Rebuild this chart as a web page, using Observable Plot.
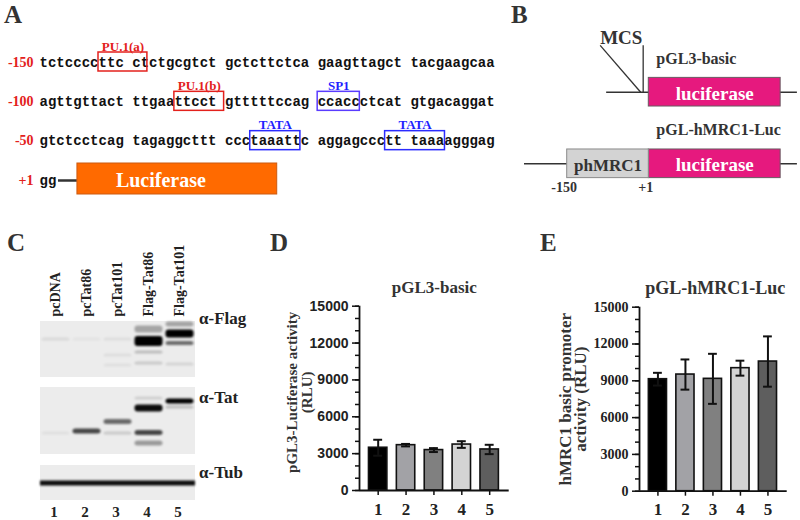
<!DOCTYPE html>
<html><head><meta charset="utf-8">
<script src="https://cdn.jsdelivr.net/npm/d3@7"></script>
<script src="https://cdn.jsdelivr.net/npm/@observablehq/plot@0.6"></script>
<style>
body{margin:0;background:#fff;}
#fig{position:relative;width:800px;height:520px;overflow:hidden;background:#fff;}
.panel{position:absolute;}
.letter{position:absolute;font:bold 25px "Liberation Serif",serif;color:#333;line-height:25px;}
</style></head><body><div id="fig"></div>
<script>
// ---------- Panel A: promoter sequence ----------
const seqRows = [
  "tctccccttc ctctgcgtct gctcttctca gaagttagct tacgaagcaa",
  "agttgttact ttgaattcct gtttttccag ccaccctcat gtgacaggat",
  "gtctcctcag tagaggcttt ccctaaattc aggagccctt taaaagggag",
  "gg"
];
const seqLabels = ["-150", "-100", "-50", "+1"];
const siteNames = ["PU.1(a)", "PU.1(b)", "SP1", "TATA", "TATA"];
const siteRows = [0, 1, 1, 2, 2];
const siteStart = [7, 16, 33, 25, 41];
const siteEnd = [12.8, 21.9, 38, 30.95, 48.1];
const reporterA = "Luciferase";
const reporterASpan = [4.5, 28.2];
const leaderSpan = [2.25, 4.5];

// ---------- Panel B: constructs ----------
const constructs = ["pGL3-basic", "pGL-hMRC1-Luc"];
const backboneStart = [-77, -229];
const backboneEnd = 276;
const promoterSpan = [-150, 1];
const lucSpan = [1, 245];
const positionLabels = ["-150", "+1"];
const positionValues = [-150, 1];

// ---------- Panel C: western blot ----------
const laneNames = ["pcDNA", "pcTat86", "pcTat101", "Flag-Tat86", "Flag-Tat101"];
const laneIds = [1, 2, 3, 4, 5];
const antibodies = ["α-Flag", "α-Tat", "α-Tub"];
const blotTop = [0, 66, 144];
const blotBottom = [56, 133, 179];
const abLabelPos = [2, 81, 156];
// bands: lane, migration position, thickness, intensity
const bandLane = [4, 4, 4, 4, 5, 5, 5, 5, 1, 2, 3, 3, 3,
                  2, 3, 3, 4, 4, 4, 4, 5, 5, 1];
const bandPos  = [20, 8, 31, 42, 12.5, 22, 3, 43, 18, 18, 18, 34, 44,
                  110, 100.5, 112, 87, 111.5, 122, 77, 80, 86, 112];
const bandThick= [10, 7, 3, 3, 8, 4, 5, 3, 3, 3, 3, 3, 3,
                  5, 5, 3, 7, 5, 5, 3, 5, 3, 3];
const bandInt  = [1, 0.3, 0.2, 0.15, 1, 0.55, 0.3, 0.1, 0.08, 0.04, 0.06, 0.06, 0.05,
                  0.7, 0.55, 0.15, 0.95, 0.7, 0.35, 0.12, 1, 0.2, 0.05];
const tubPos = 162, tubThick = 5, tubInt = 0.95;

// ---------- Panels D, E: luciferase assays ----------
const groups = [1, 2, 3, 4, 5];
const basicMean = [3480, 3690, 3290, 3740, 3340];
const basicErr  = [650, 100, 160, 270, 380];
const mrcMean   = [9130, 9510, 9160, 10030, 10570];
const mrcErr    = [520, 1230, 2040, 610, 2050];
const barFills  = ["#000000", "#a2a2a6", "#808080", "#d4d4d4", "#5e5e5e"];

const fig = document.getElementById("fig");
const SERIF = "Liberation Serif";
function place(el, left, top) {
  el.classList.add("panel");
  el.style.left = left + "px";
  el.style.top = top + "px";
  fig.appendChild(el);
}
function letter(t, left, top) {
  const d = document.createElement("div");
  d.className = "letter";
  d.textContent = t;
  d.style.left = left + "px";
  d.style.top = top + "px";
  fig.appendChild(d);
}

// ----- A -----
const chars = seqRows.flatMap((s, r) => Array.from(s, (c, i) => ({row: r, i, c}))).filter(d => d.c !== " ");
const sites = siteNames.map((name, k) => ({name, row: siteRows[k], start: siteStart[k], end: siteEnd[k]}));
const labelColor = n => n.startsWith("PU") ? "#e3211c" : "#1f1fff";
const boxColor = n => n.startsWith("PU") ? "#e3211c" : n === "SP1" ? "#5a3cff" : "#2b2bff";
const plotA = Plot.plot({
  width: 500, height: 200, margin: 0,
  x: {domain: [0, 54], range: [39, 494.2], axis: null},
  y: {domain: [0, 3], range: [66, 184], axis: null},
  color: {type: "identity"},
  marks: [
    Plot.text(seqLabels, {x: -0.7, y: (d, i) => i, text: d => d, textAnchor: "end", lineAnchor: "bottom",
      fill: "#e3211c", fontFamily: SERIF, fontWeight: "bold", fontSize: 14}),
    Plot.text(chars, {x: d => d.i + 0.5, y: "row", text: "c", lineAnchor: "bottom", textAnchor: "middle",
      fontFamily: "Liberation Mono", fontWeight: "bold", fontSize: 14, fill: "#111"}),
    Plot.rect(sites, {x1: "start", x2: "end", y1: "row", y2: "row", insetTop: -14, insetBottom: -5,
      fill: "none", stroke: d => boxColor(d.name), strokeWidth: 1.5}),
    Plot.text(sites, {x: d => (d.start + d.end) / 2, y: "row", dy: -16, text: "name", lineAnchor: "bottom",
      fill: d => labelColor(d.name), fontFamily: SERIF, fontWeight: "bold", fontSize: 13}),
    Plot.ruleY([3], {x1: leaderSpan[0], x2: leaderSpan[1], dy: -4, stroke: "#333", strokeWidth: 2.5}),
    Plot.rect([{row: 3}], {x1: reporterASpan[0], x2: reporterASpan[1], y1: "row", y2: "row", insetTop: -21, insetBottom: -10,
      fill: "#ff6a00", stroke: "#cc5a10", strokeWidth: 1}),
    Plot.text([reporterA], {x: 14.4, y: 3, dy: 2, lineAnchor: "bottom", fill: "white",
      fontFamily: SERIF, fontWeight: "bold", fontSize: 20})
  ]
});
place(plotA, 0, 0);

// ----- B -----
const tracks = constructs.map((name, k) => ({name, k, start: backboneStart[k], end: backboneEnd}));
const mcsLines = [{x1: -89, y1: -0.655, x2: -14, y2: 0}, {x1: -9.4, y1: -0.655, x2: -9.4, y2: 0}];
const plotB = Plot.plot({
  width: 300, height: 200, margin: 0,
  x: {domain: promoterSpan, range: [66.7, 148.3], axis: null},
  y: {domain: [0, 1], range: [91.7, 163.3], axis: null},
  color: {type: "identity"},
  marks: [
    Plot.ruleY(tracks, {y: "k", x1: "start", x2: "end", stroke: "#333", strokeWidth: 1.5}),
    Plot.rect(tracks, {x1: lucSpan[0], x2: lucSpan[1], y1: d => d.k - 0.2, y2: d => d.k + 0.2,
      fill: "#e6197e", stroke: "#6a5a62", strokeWidth: 1}),
    Plot.rect([{k: 1}], {x1: promoterSpan[0], x2: promoterSpan[1], y1: d => d.k - 0.2, y2: d => d.k + 0.2,
      fill: "#d3d3d3", stroke: "#8a8a8a", strokeWidth: 1}),
    Plot.text(tracks, {x: (lucSpan[0] + lucSpan[1]) / 2, y: "k", dy: 1.5, text: () => "luciferase", fill: "white",
      fontFamily: SERIF, fontWeight: "bold", fontSize: 19}),
    Plot.text(["phMRC1"], {x: (promoterSpan[0] + promoterSpan[1]) / 2, y: 1, dy: 1.5, fill: "#333",
      fontFamily: SERIF, fontWeight: "bold", fontSize: 17}),
    Plot.text(tracks, {x: 15, y: d => d.k - 0.4, text: "name", textAnchor: "start", lineAnchor: "bottom",
      fill: "#333", fontFamily: SERIF, fontWeight: "bold", fontSize: 16}),
    Plot.text(["MCS"], {x: -50, y: -0.68, lineAnchor: "bottom", fill: "#333",
      fontFamily: SERIF, fontWeight: "bold", fontSize: 19}),
    Plot.link(mcsLines, {x1: "x1", y1: "y1", x2: "x2", y2: "y2", stroke: "#333", strokeWidth: 1.3}),
    Plot.text(positionLabels, {x: (d, i) => positionValues[i], y: 1.4, dx: (-3), lineAnchor: "bottom", fill: "#333",
      fontFamily: SERIF, fontWeight: "bold", fontSize: 14})
  ]
});
place(plotB, 500, 0);

// ----- C -----
const blotCells = antibodies.flatMap((ab, b) => laneIds.map(l => ({lane: l, top: blotTop[b], bottom: blotBottom[b]})));
const bands = bandLane.map((l, k) => ({lane: l, pos: bandPos[k], h: bandThick[k], a: bandInt[k]}));
const tub = laneIds.map(l => ({lane: l, pos: tubPos, h: tubThick, a: tubInt}));
const plotC = Plot.plot({
  width: 260, height: 300, margin: 0,
  x: {type: "band", domain: laneIds, range: [40, 195], padding: 0, axis: null},
  y: {domain: [0, 180], range: [101, 281], axis: null},
  color: {type: "identity"},
  marks: [
    Plot.barY(blotCells, {x: "lane", y1: "top", y2: "bottom", fill: "#ececec", inset: 0}),
    Plot.barY(bands, {x: "lane", y1: d => d.pos - d.h / 2, y2: d => d.pos + d.h / 2, fill: "#000",
      fillOpacity: "a", insetLeft: 1.5, insetRight: 1.5, rx: 3, imageFilter: "blur(1.3px)"}),
    Plot.barY(tub, {x: "lane", y1: d => d.pos - d.h / 2, y2: d => d.pos + d.h / 2, fill: "#000",
      fillOpacity: "a", inset: 0, imageFilter: "blur(1.1px)"}),
    Plot.text(laneNames, {x: (d, i) => laneIds[i], y: -5, rotate: -90, textAnchor: "start", lineAnchor: "middle",
      fill: "#222", fontFamily: SERIF, fontWeight: "bold", fontSize: 14}),
    Plot.text(antibodies, {x: 5, y: (d, i) => abLabelPos[i], dx: 19, textAnchor: "start", lineAnchor: "bottom",
      fill: "#222", fontFamily: SERIF, fontWeight: "bold", fontSize: 17}),
    Plot.text(laneIds, {x: d => d, y: 195, text: d => String(d), lineAnchor: "bottom", dx: -2,
      fill: "#222", fontFamily: SERIF, fontWeight: "bold", fontSize: 15})
  ]
});
place(plotC, 0, 220);

// ----- D & E -----
const xDomain = [0.33, 5.7];
function barPanel({means, errs, title, ylabel, width, ml, mr, mt, mb, tickFont, tickSize, labelDx, labelDy, labelSize, labelLH, titleSize, titleDx}) {
  const rows = groups.map((g, i) => ({g, mean: means[i], err: errs[i], fill: barFills[i]}));
  return Plot.plot({
    width, height: 260, marginLeft: ml, marginRight: mr, marginTop: mt, marginBottom: mb,
    style: {fontFamily: tickFont, fontWeight: "bold", fontSize: tickSize + "px", color: "#222"},
    x: {domain: xDomain, label: null},
    y: {domain: [0, 15000], label: null},
    color: {type: "identity"},
    marks: [
      Plot.rectY(rows, {x1: d => d.g - 0.33, x2: d => d.g + 0.33, y1: 0, y2: "mean", fill: "fill", stroke: "#111", strokeWidth: 1.6}),
      Plot.ruleX(rows, {x: "g", y1: d => d.mean - d.err, y2: d => d.mean + d.err, stroke: "#111", strokeWidth: 2}),
      Plot.ruleY(rows, {y: d => d.mean + d.err, x1: d => d.g - 0.16, x2: d => d.g + 0.16, stroke: "#111", strokeWidth: 2}),
      Plot.ruleY(rows, {y: d => d.mean - d.err, x1: d => d.g - 0.16, x2: d => d.g + 0.16, stroke: "#111", strokeWidth: 2}),
      Plot.axisY({ticks: d3.range(0, 15001, 1000), tickSize: 4, tickFormat: () => "", label: null, stroke: "#111", strokeWidth: 1.5}),
      Plot.axisY({ticks: d3.range(0, 15001, 3000), tickSize: 7, tickPadding: 4, tickFormat: d => String(d), label: null,
        stroke: "#111", strokeWidth: 1.5, fill: "#222", fontFamily: tickFont, fontWeight: "bold", fontSize: tickSize}),
      Plot.axisX({ticks: groups, tickSize: 5, tickPadding: 7, tickFormat: d => String(d), label: null, stroke: "#111", strokeWidth: 1.5,
        fill: "#222", fontFamily: SERIF, fontWeight: "bold", fontSize: 17}),
      Plot.ruleY([0], {stroke: "#111", strokeWidth: 1.8}),
      Plot.ruleX([xDomain[0]], {stroke: "#111", strokeWidth: 1.8}),
      Plot.text([title], {frameAnchor: "top", dx: titleDx, dy: -13, lineAnchor: "bottom", textAnchor: "middle",
        fill: "#333", fontFamily: SERIF, fontWeight: "bold", fontSize: titleSize}),
      Plot.text([ylabel], {frameAnchor: "left", dx: labelDx, dy: labelDy, rotate: -90, textAnchor: "middle", lineAnchor: "middle",
        lineHeight: labelLH, fill: "#333", fontFamily: SERIF, fontWeight: "bold", fontSize: labelSize})
    ]
  });
}
const plotD = barPanel({means: basicMean, errs: basicErr, title: "pGL3-basic", ylabel: "pGL3-Luciferase activity\n(RLU)",
  width: 240, ml: 79, mr: 11.3, mt: 45.7, mb: 30, tickFont: "Liberation Sans", tickSize: 14,
  labelDx: -60, labelDy: -6, labelSize: 15, labelLH: 1.0, titleSize: 17, titleDx: 0});
place(plotD, 280, 260);
const plotE = barPanel({means: mrcMean, errs: mrcErr, title: "pGL-hMRC1-Luc", ylabel: "hMRC1 basic promoter\nactivity (RLU)",
  width: 260, ml: 99, mr: 13.3, mt: 46.7, mb: 29.3, tickFont: SERIF, tickSize: 14,
  labelDx: -66, labelDy: 0, labelSize: 17, labelLH: 0.9, titleSize: 18, titleDx: 2});
place(plotE, 540, 260);

letter("A", 4, 2);
letter("B", 511, 2);
letter("C", 7, 230);
letter("D", 270, 230);
letter("E", 540, 230);
</script></body></html>
